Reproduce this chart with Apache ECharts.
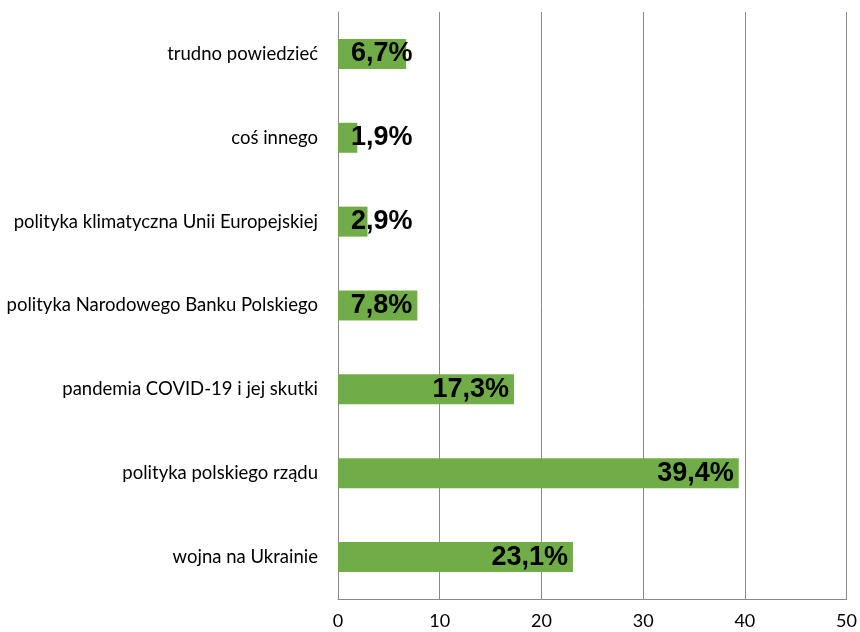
<!DOCTYPE html>
<html>
<head>
<meta charset="utf-8">
<script src="https://cdn.jsdelivr.net/npm/echarts@6/dist/echarts.min.js"></script>
<style>
  html, body { margin: 0; padding: 0; background: #fff; }
  #chart { width: 860px; height: 632px; }
</style>
</head>
<body>
<div id="chart"></div>
<script>
// Categories listed bottom-to-top (category axis on y starts at the bottom)
const categories = [
  'wojna na Ukrainie',
  'polityka polskiego rządu',
  'pandemia COVID-19 i jej skutki',
  'polityka Narodowego Banku Polskiego',
  'polityka klimatyczna Unii Europejskiej',
  'coś innego',
  'trudno powiedzieć'
];
const shares = [23.1, 39.4, 17.3, 7.8, 2.9, 1.9, 6.7];
const xTicks = [0, 10, 20, 30, 40, 50];

const fmt = v => v.toFixed(1).replace('.', ',') + '%';

const chart = echarts.init(document.getElementById('chart'), null, { renderer: 'canvas' });

chart.setOption({
  animation: false,
  backgroundColor: '#ffffff',
  grid: { left: 338, right: 12, top: 12, bottom: 33, containLabel: false },
  xAxis: {
    type: 'value',
    min: xTicks[0],
    max: xTicks[xTicks.length - 1],
    interval: 10,
    axisLine: { show: true, lineStyle: { color: '#898989', width: 1 } },
    axisTick: { show: false },
    axisLabel: {
      color: '#000', fontFamily: 'Lato', fontSize: 18, margin: 13
    },
    splitLine: { show: true, lineStyle: { color: '#898989', width: 1 } }
  },
  yAxis: {
    type: 'category',
    data: categories,
    axisLine: { show: true, lineStyle: { color: '#898989', width: 1 } },
    axisTick: { show: false },
    axisLabel: {
      color: '#000', fontFamily: 'Lato', fontSize: 18.5, margin: 20
    }
  },
  series: [{
    type: 'bar',
    data: shares.map(v => ({
      value: v,
      label: v < 7
        ? { position: 'insideLeft', distance: 13 }
        : { position: 'insideRight', distance: 5 }
    })),
    barWidth: 30,
    itemStyle: { color: '#70AD47' },
    label: {
      show: true,
      formatter: p => fmt(p.value),
      color: '#000',
      fontFamily: 'Liberation Sans, Arial',
      fontWeight: 'bold',
      fontSize: 27
    }
  }]
});
</script>
</body>
</html>
